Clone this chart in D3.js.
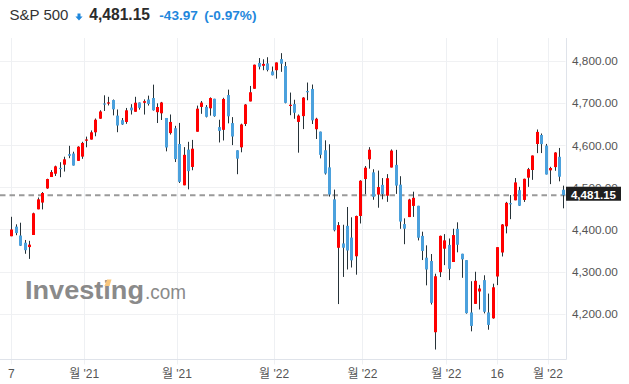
<!DOCTYPE html>
<html><head><meta charset="utf-8">
<script src="https://cdn.jsdelivr.net/npm/d3@7"></script>
<style>html,body{margin:0;padding:0;background:#fff;}svg{display:block;}</style>
</head><body>
<svg id="c" width="629" height="384"></svg>
<script>
const dates = ["2021-10-07","2021-10-08","2021-10-11","2021-10-12","2021-10-13","2021-10-14","2021-10-15","2021-10-18","2021-10-19","2021-10-20","2021-10-21","2021-10-22","2021-10-25","2021-10-26","2021-10-27","2021-10-28","2021-10-29",
"2021-11-01","2021-11-02","2021-11-03","2021-11-04","2021-11-05","2021-11-08","2021-11-09","2021-11-10","2021-11-11","2021-11-12","2021-11-15","2021-11-16","2021-11-17","2021-11-18","2021-11-19","2021-11-22","2021-11-23","2021-11-24","2021-11-26","2021-11-29","2021-11-30",
"2021-12-01","2021-12-02","2021-12-03","2021-12-06","2021-12-07","2021-12-08","2021-12-09","2021-12-10","2021-12-13","2021-12-14","2021-12-15","2021-12-16","2021-12-17","2021-12-20","2021-12-21","2021-12-22","2021-12-23","2021-12-27","2021-12-28","2021-12-29","2021-12-30","2021-12-31",
"2022-01-03","2022-01-04","2022-01-05","2022-01-06","2022-01-07","2022-01-10","2022-01-11","2022-01-12","2022-01-13","2022-01-14","2022-01-18","2022-01-19","2022-01-20","2022-01-21","2022-01-24","2022-01-25","2022-01-26","2022-01-27","2022-01-28","2022-01-31",
"2022-02-01","2022-02-02","2022-02-03","2022-02-04","2022-02-07","2022-02-08","2022-02-09","2022-02-10","2022-02-11","2022-02-14","2022-02-15","2022-02-16","2022-02-17","2022-02-18","2022-02-22","2022-02-23","2022-02-24","2022-02-25","2022-02-28",
"2022-03-01","2022-03-02","2022-03-03","2022-03-04","2022-03-07","2022-03-08","2022-03-09","2022-03-10","2022-03-11","2022-03-14","2022-03-15","2022-03-16","2022-03-17","2022-03-18","2022-03-21","2022-03-22","2022-03-23","2022-03-24","2022-03-25","2022-03-28","2022-03-29","2022-03-30","2022-03-31",
"2022-04-01","2022-04-04","2022-04-05","2022-04-06"];
const opens = [4383.73,4406.51,4385.44,4368.31,4358.01,4386.75,4447.69,4463.72,4497.34,4524.42,4532.24,4546.12,4553.69,4578.69,4580.22,4562.84,4572.87,
4610.62,4613.34,4630.65,4662.93,4699.26,4701.48,4707.25,4670.26,4659.39,4655.24,4689.30,4679.42,4701.50,4700.72,4708.44,4712.00,4678.48,4675.78,4664.63,4628.75,4640.25,
4602.82,4504.73,4589.49,4548.37,4631.97,4690.86,4691.00,4687.64,4710.30,4642.99,4636.46,4719.13,4652.50,4587.90,4594.96,4650.36,4703.96,4733.99,4795.49,4788.64,4794.23,4775.21,
4778.14,4804.51,4787.99,4693.39,4697.66,4655.34,4669.14,4728.59,4733.56,4637.99,4632.24,4588.03,4547.35,4471.38,4356.32,4366.64,4408.43,4380.58,4336.19,4431.79,
4519.57,4566.39,4535.41,4482.79,4505.75,4480.02,4547.00,4553.24,4506.27,4412.61,4429.28,4455.75,4456.06,4384.57,4332.74,4324.93,4155.77,4298.38,4354.17,
4363.14,4322.56,4401.31,4342.12,4327.01,4202.66,4223.10,4252.55,4279.50,4202.75,4188.82,4288.14,4345.11,4407.34,4462.40,4469.10,4493.10,4469.98,4522.91,4541.09,4602.86,4624.20,4599.02,
4540.32,4547.97,4572.45,4494.17];
const highs = [4429.97,4412.02,4415.88,4374.89,4372.87,4439.73,4475.82,4488.75,4520.40,4540.87,4551.44,4559.67,4572.62,4598.53,4584.57,4597.55,4608.08,
4620.34,4635.15,4663.46,4683.00,4718.50,4714.92,4708.53,4684.85,4664.55,4688.47,4697.42,4714.95,4701.50,4708.80,4717.75,4743.83,4699.39,4702.87,4664.63,4672.95,4646.02,
4652.94,4595.46,4608.03,4612.60,4694.04,4705.06,4695.26,4713.57,4710.30,4660.47,4712.60,4731.99,4666.70,4587.90,4651.14,4697.67,4740.74,4791.49,4807.02,4804.06,4808.93,4786.83,
4796.64,4818.62,4797.70,4725.01,4707.95,4673.02,4714.13,4748.83,4744.13,4665.13,4632.24,4611.55,4602.11,4494.52,4417.35,4411.01,4453.23,4428.74,4432.72,4516.89,
4550.49,4595.31,4542.88,4539.66,4521.86,4531.32,4590.03,4588.92,4526.33,4426.22,4472.77,4489.55,4456.06,4394.60,4362.12,4341.51,4294.73,4385.34,4388.84,
4378.45,4401.48,4416.78,4342.12,4327.01,4276.94,4299.40,4268.28,4291.01,4247.57,4271.05,4357.86,4412.67,4465.40,4481.75,4522.00,4501.07,4520.58,4546.03,4575.65,4637.30,4627.77,4603.07,
4548.70,4583.50,4593.45,4503.94];
const lows = [4383.73,4386.22,4360.59,4342.09,4329.92,4386.75,4447.69,4447.47,4496.41,4524.40,4526.89,4524.00,4537.36,4569.17,4551.66,4562.84,4567.59,
4595.06,4613.34,4621.19,4662.59,4681.32,4694.39,4670.87,4630.86,4648.31,4650.77,4672.86,4679.42,4684.41,4672.78,4694.22,4682.17,4652.66,4659.89,4585.43,4625.26,4560.00,
4510.27,4504.73,4495.12,4540.51,4631.97,4674.52,4665.98,4670.24,4667.60,4606.52,4611.22,4651.89,4600.22,4531.10,4583.16,4645.53,4703.96,4733.99,4780.04,4778.08,4775.33,4765.75,
4758.17,4774.27,4699.44,4671.26,4662.74,4582.24,4638.27,4706.71,4650.29,4614.75,4568.70,4530.20,4477.95,4395.34,4222.62,4287.11,4304.80,4309.50,4292.46,4414.02,
4483.53,4544.32,4470.39,4451.50,4471.47,4465.40,4547.00,4484.31,4401.41,4364.84,4429.28,4429.68,4373.81,4327.22,4267.11,4221.51,4114.65,4286.83,4315.12,
4279.54,4322.56,4345.56,4284.98,4199.85,4157.87,4223.10,4209.80,4200.49,4161.72,4187.90,4267.66,4335.65,4390.57,4424.30,4469.10,4455.81,4465.17,4501.07,4517.69,4581.18,4581.32,4530.41,
4507.57,4539.21,4514.17,4450.04];
const closes = [4399.76,4391.34,4361.19,4350.65,4363.80,4438.26,4471.37,4486.46,4519.63,4536.19,4549.78,4544.90,4566.48,4574.79,4551.68,4596.42,4605.38,
4613.67,4630.65,4660.57,4680.06,4697.53,4701.70,4685.25,4646.71,4649.27,4682.85,4682.80,4700.90,4688.67,4704.54,4697.96,4682.94,4690.70,4701.46,4594.62,4655.27,4567.00,
4513.04,4577.10,4538.43,4591.67,4686.75,4701.21,4667.45,4712.02,4668.97,4634.09,4709.85,4668.67,4620.64,4568.02,4649.23,4696.56,4725.79,4791.19,4786.35,4793.06,4778.73,4766.18,
4796.56,4793.54,4700.58,4696.05,4677.03,4670.29,4713.07,4726.35,4659.03,4662.85,4577.11,4532.76,4482.73,4397.94,4410.13,4356.45,4349.93,4326.51,4431.85,4515.55,
4546.54,4589.38,4477.44,4500.53,4483.87,4521.54,4587.18,4504.08,4418.64,4401.67,4471.07,4475.01,4380.26,4348.87,4304.76,4225.50,4288.70,4384.65,4373.94,
4306.26,4386.54,4363.49,4328.87,4201.09,4170.70,4277.88,4259.52,4204.31,4173.11,4262.45,4357.86,4411.67,4463.12,4461.18,4511.61,4456.24,4520.16,4543.06,4575.52,4631.60,4602.45,4530.41,
4545.86,4582.64,4525.12,4481.15];
const yTicks = [4200,4300,4400,4500,4600,4700,4800];
const xTickDates = ["2021-10-07","2021-11-01","2021-12-01","2022-01-03","2022-02-01","2022-03-01","2022-03-16","2022-04-01"];
const xTickLabels = ["7","월 '21","월 '21","월 '22","월 '22","월 '22","16","월 '22"];
const title = "S&P 500";
const lastPrice = 4481.15;
const change = -43.97;
const changePct = -0.97;

const FONT = "'Liberation Sans', Arial, 'Noto Sans CJK KR', sans-serif";
const UP = "#ff0000", DOWN = "#4ba1dd", WICK = "#263238", BLUE_TXT = "#1f87dc";
const svg = d3.select("#c");
const plotR = 566.5, plotTop = 38, plotBot = 359.5;
const hy = s => s.replace("\u2212", "-");

const x = d3.scaleLinear().domain([0, dates.length - 1]).range([11.3, 563.4]);
const y = d3.scaleLinear().domain([4200, 4800]).range([313.6, 61]);

// grid
const gridG = svg.append("g");
gridG.selectAll("line.h").data(yTicks).join("line")
  .attr("x1", 0).attr("x2", plotR - 1)
  .attr("y1", d => Math.round(y(d)) + 0.5).attr("y2", d => Math.round(y(d)) + 0.5)
  .attr("stroke", "#f0f1f3").attr("stroke-width", 1);
const tickIdx = xTickDates.map((d, i) => {
  const k = dates.indexOf(d);
  return /월/.test(xTickLabels[i]) ? k - 0.5 : k;
});
gridG.selectAll("line.v").data(tickIdx).join("line")
  .attr("x1", d => Math.round(x(d)) + 0.5).attr("x2", d => Math.round(x(d)) + 0.5)
  .attr("y1", plotTop).attr("y2", plotBot + 5)
  .attr("stroke", "#eef0f3").attr("stroke-width", 1);

// axis lines
svg.append("line").attr("x1", plotR).attr("x2", plotR).attr("y1", plotTop).attr("y2", plotBot)
  .attr("stroke", "#dfe3ea");
svg.append("line").attr("x1", 0).attr("x2", plotR).attr("y1", plotBot).attr("y2", plotBot)
  .attr("stroke", "#dfe3ea");

// y labels (the one behind the price box is clipped like in the reference)
const fmt = d3.format(",.2f");
const yl = y(lastPrice);
svg.append("clipPath").attr("id", "abovebox").append("rect")
  .attr("x", 560).attr("y", 0).attr("width", 69).attr("height", yl - 8.5);
svg.append("g").selectAll("text").data(yTicks).join("text")
  .attr("x", 572).attr("y", d => y(d) + 4.3)
  .attr("clip-path", d => Math.abs(y(d) - yl) < 14 ? "url(#abovebox)" : null)
  .attr("font-family", FONT).attr("font-size", 11.8).attr("fill", "#555")
  .text(d => fmt(d));

// x labels
svg.append("g").selectAll("text").data(tickIdx).join("text")
  .attr("x", d => x(d)).attr("y", 378)
  .attr("text-anchor", "middle")
  .attr("font-family", FONT).attr("font-size", 12).attr("fill", "#555")
  .text((d, i) => xTickLabels[i]);

// watermark
const wm = svg.append("g");
wm.append("text").attr("x", 25).attr("y", 299)
  .attr("font-family", FONT).attr("font-weight", "bold").attr("font-size", 25)
  .attr("fill", "#8a8a8a").attr("textLength", 119).attr("lengthAdjust", "spacingAndGlyphs")
  .text("Investing");
wm.append("text").attr("x", 145).attr("y", 299)
  .attr("font-family", FONT).attr("font-size", 19.5)
  .attr("fill", "#8a8a8a").attr("textLength", 41).attr("lengthAdjust", "spacingAndGlyphs")
  .text(".com");
wm.append("path").attr("d", "M104.5,286 L107,279.5 L111.5,279.5 L109.5,286 Z").attr("fill", "#f8c67c");

// dashed last price line
svg.append("line").attr("x1", 0).attr("x2", plotR - 1)
  .attr("y1", yl).attr("y2", yl)
  .attr("stroke", "#9a9a9a").attr("stroke-width", 2).attr("stroke-dasharray", "5.5,4");

// candles
const idx = d3.range(dates.length);
const cg = svg.append("g");
cg.selectAll("line").data(idx).join("line")
  .attr("x1", i => Math.round(x(i)) + 0.5).attr("x2", i => Math.round(x(i)) + 0.5)
  .attr("y1", i => y(highs[i])).attr("y2", i => y(lows[i]))
  .attr("stroke", WICK).attr("stroke-width", 1);
cg.selectAll("rect").data(idx).join("rect")
  .attr("x", i => Math.round(x(i)) - 1).attr("width", 3)
  .attr("y", i => y(Math.max(opens[i], closes[i])))
  .attr("height", i => Math.max(1.2, Math.abs(y(opens[i]) - y(closes[i]))))
  .attr("fill", i => closes[i] >= opens[i] ? UP : DOWN);

// price box
svg.append("rect").attr("x", 566).attr("y", yl - 8.5).attr("width", 55).attr("height", 14).attr("fill", "#1f1f1f");
svg.append("text").attr("x", 593.5).attr("y", yl + 3.6).attr("text-anchor", "middle")
  .attr("font-family", FONT).attr("font-weight", "bold").attr("font-size", 11.6).attr("fill", "#fff")
  .text(fmt(lastPrice));

// header
const hg = svg.append("g").attr("font-family", FONT);
hg.append("text").attr("x", 9.5).attr("y", 20).attr("font-size", 15).attr("fill", "#333").text(title);
hg.append("path").attr("d", "M77.5,13.5 H80.5 V16.4 H82.6 L79,20.6 L75.4,16.4 H77.5 Z").attr("fill", BLUE_TXT);
hg.append("text").attr("x", 89.3).attr("y", 20).attr("font-size", 15.6).attr("font-weight", "bold").attr("fill", "#2b2b2b")
  .text(fmt(lastPrice));
hg.append("text").attr("x", 159.3).attr("y", 20).attr("font-size", 13.6).attr("font-weight", "bold").attr("fill", BLUE_TXT)
  .text(hy(d3.format(".2f")(change)));
hg.append("text").attr("x", 204.3).attr("y", 20).attr("font-size", 13.6).attr("font-weight", "bold").attr("fill", BLUE_TXT)
  .text("(" + hy(d3.format(".2f")(changePct)) + "%)");
</script>
</body></html>
